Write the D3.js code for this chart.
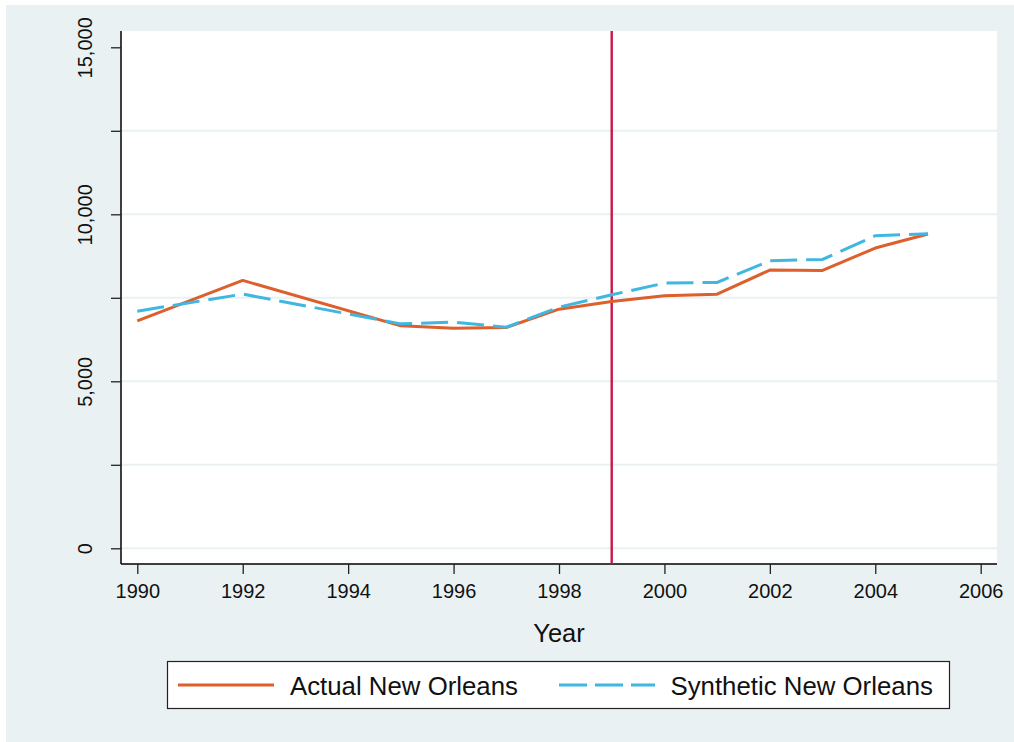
<!DOCTYPE html>
<html>
<head>
<meta charset="utf-8">
<script src="https://cdn.jsdelivr.net/npm/d3@7"></script>
<style>
  html, body { margin: 0; padding: 0; background: #ffffff; }
  svg { display: block; font-family: "Liberation Sans", Arial, sans-serif; }
</style>
</head>
<body>
<svg id="chart" width="1014" height="742"></svg>
<script>
// ---- data ----
const years = [1990, 1992, 1995, 1996, 1997, 1998, 1999, 2000, 2001, 2002, 2003, 2004, 2005];
const actual = [6810, 8020, 6660, 6590, 6610, 7160, 7390, 7560, 7610, 8330, 8320, 8990, 9410];
const synthetic = [7100, 7610, 6720, 6770, 6620, 7220, 7590, 7940, 7960, 8610, 8650, 9360, 9420];
const xTicks = [1990, 1992, 1994, 1996, 1998, 2000, 2002, 2004, 2006];
const yTicks = [0, 2500, 5000, 7500, 10000, 12500, 15000];
const yLabeled = [0, 5000, 10000, 15000];
const treatmentYear = 1999;
const seriesNames = ["Actual New Orleans", "Synthetic New Orleans"];
const xTitle = "Year";

// ---- layout ----
const svg = d3.select("#chart");
const bg = "#eaf1f3";
const colActual = "#dc5f2c";
const colSynth = "#3fb7e1";
const colVline = "#c8174a";
const plot = { left: 121, right: 997, top: 31, bottom: 564 };

svg.append("rect").attr("x", 6).attr("y", 5).attr("width", 1008).attr("height", 737).attr("fill", bg);
svg.append("rect").attr("x", plot.left).attr("y", plot.top)
  .attr("width", plot.right - plot.left).attr("height", plot.bottom - plot.top).attr("fill", "#ffffff");

const x = d3.scaleLinear().domain([1990, 2006]).range([137.3, 980.7]);
const y = d3.scaleLinear().domain([0, 15000]).range([548.3, 47.3]);

// gridlines (not at top value)
svg.append("g").selectAll("line")
  .data(yTicks.filter(v => v < 15000))
  .join("line")
  .attr("x1", plot.left).attr("x2", plot.right)
  .attr("y1", d => y(d)).attr("y2", d => y(d))
  .attr("stroke", bg).attr("stroke-width", 2);

// y axis
const yAxis = d3.axisLeft(y).tickValues(yTicks).tickSize(10).tickPadding(0)
  .tickFormat(d => yLabeled.includes(d) ? d3.format(",")(d) : "");
const gy = svg.append("g").attr("transform", `translate(${plot.left},0)`).call(yAxis);
gy.select(".domain").attr("d", `M0,${plot.top}V${plot.bottom}`).attr("stroke", "#000").attr("stroke-width", 1.5);
gy.selectAll(".tick line").attr("stroke", "#222").attr("stroke-width", 1.3);
gy.selectAll(".tick text")
  .attr("font-size", 20).attr("fill", "#111")
  .attr("text-anchor", "middle")
  .attr("x", 0).attr("dy", 0)
  .attr("transform", "translate(-29.5,0) rotate(-90)");

// x axis
const xAxis = d3.axisBottom(x).tickValues(xTicks).tickSize(10).tickPadding(0).tickFormat(d3.format("d"));
const gx = svg.append("g").attr("transform", `translate(0,${plot.bottom})`).call(xAxis);
gx.select(".domain").attr("d", `M${plot.left},0H${plot.right}`).attr("stroke", "#000").attr("stroke-width", 1.5);
gx.selectAll(".tick line").attr("stroke", "#222").attr("stroke-width", 1.3);
gx.selectAll(".tick text").attr("font-size", 20).attr("fill", "#111").attr("dy", 0).attr("y", 34);

// x title
svg.append("text").attr("x", (plot.left + plot.right) / 2).attr("y", 641.5)
  .attr("text-anchor", "middle").attr("font-size", 25.5).attr("fill", "#111").text(xTitle);

// vertical treatment line
svg.append("line")
  .attr("x1", x(treatmentYear)).attr("x2", x(treatmentYear))
  .attr("y1", plot.top).attr("y2", plot.bottom)
  .attr("stroke", colVline).attr("stroke-width", 2.4);

// lines
const line = d3.line().x(d => x(d[0])).y(d => y(d[1]));
svg.append("path").datum(years.map((yr, i) => [yr, actual[i]]))
  .attr("d", line).attr("fill", "none").attr("stroke", colActual).attr("stroke-width", 3)
  .attr("stroke-linejoin", "round");
svg.append("path").datum(years.map((yr, i) => [yr, synthetic[i]]))
  .attr("d", line).attr("fill", "none").attr("stroke", colSynth).attr("stroke-width", 3)
  .attr("stroke-dasharray", "27,9");

// legend
const lg = svg.append("g");
lg.append("rect").attr("x", 167.5).attr("y", 661.5).attr("width", 782).attr("height", 47)
  .attr("fill", "#fff").attr("stroke", "#222").attr("stroke-width", 1.2);
lg.append("line").attr("x1", 178).attr("x2", 274).attr("y1", 685).attr("y2", 685)
  .attr("stroke", colActual).attr("stroke-width", 3);
lg.append("text").attr("x", 290).attr("y", 694.5).attr("font-size", 25.8).attr("fill", "#111").text(seriesNames[0]);
lg.append("line").attr("x1", 559).attr("x2", 655).attr("y1", 685).attr("y2", 685)
  .attr("stroke", colSynth).attr("stroke-width", 3).attr("stroke-dasharray", "28,8");
lg.append("text").attr("x", 670.5).attr("y", 694.5).attr("font-size", 25.8).attr("fill", "#111").text(seriesNames[1]);
</script>
</body>
</html>
